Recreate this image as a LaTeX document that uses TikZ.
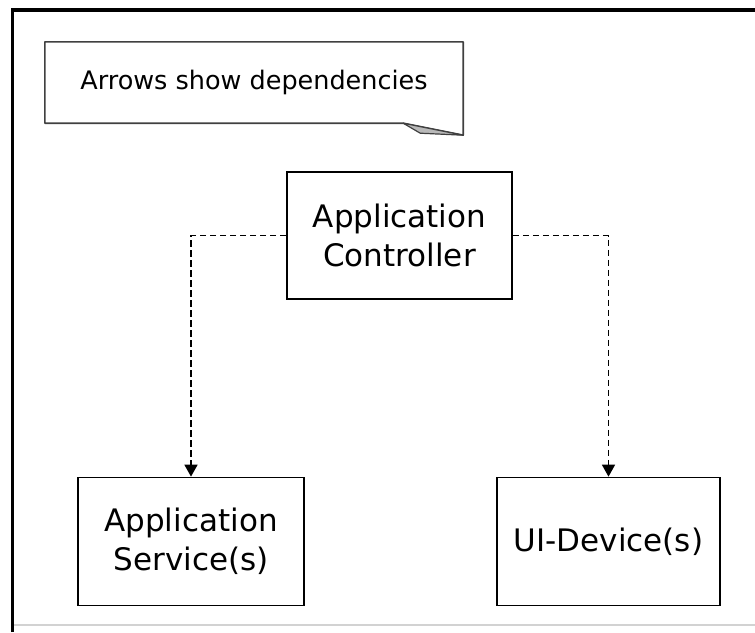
\documentclass[tikz,border=0pt]{standalone}
\usepackage{fontspec}
\setmainfont{DejaVu Sans}
\usetikzlibrary{arrows.meta}
\begin{document}
\begin{tikzpicture}[x=1pt,y=-1pt,
  box/.style={draw=black,line width=1.7pt,rectangle,inner sep=0pt,align=center,
    font=\fontsize{31}{39}\selectfont},
  dep/.style={draw=black,line width=1.6pt,dash pattern=on 6.5pt off 3.5pt,
    -{Triangle[width=13pt,length=12pt]}},
  notebox/.style={rectangle,inner sep=0pt,minimum width=418pt,minimum height=81pt,
    font=\fontsize{25.5}{30}\selectfont}]
\useasboundingbox (0,0) rectangle (755,632);
\fill[white] (0,0) rectangle (755,632);
% frame
\draw[gray!35,line width=1.5pt] (12,625) -- (755,625);
\draw[black,line width=3.5pt] (12.5,632) -- (12.5,10) -- (755,10);
% note
\node[notebox] (note) at (254,82.5) {Arrows show dependencies};
\draw[gray!50!black,line width=1.6pt,line join=round]
  (note.north west) -- (note.north east) -- ([yshift=-12pt]note.south east)
  -- ([xshift=-60pt]note.south east) -- (note.south west) -- cycle;
\filldraw[fill=gray!55,draw=gray!50!black,line width=1.2pt,line join=round]
  ([xshift=-60pt]note.south east) -- ([xshift=-43pt,yshift=-10pt]note.south east)
  -- ([yshift=-12pt]note.south east) -- cycle;
% boxes
\node[box,minimum width=225pt,minimum height=127pt] (ctrl) at (399.5,235.5) {Application\\Controller};
\node[box,minimum width=226pt,minimum height=128pt] (svc) at (191,541.5) {Application\\Service(s)};
\node[box,minimum width=223pt,minimum height=128pt] (ui) at (608.5,541.5) {UI-Device(s)};
% connectors
\draw[dep] (ctrl.west) -| (svc.north);
\draw[dep] (ctrl.east) -| (ui.north);
\end{tikzpicture}
\end{document}
